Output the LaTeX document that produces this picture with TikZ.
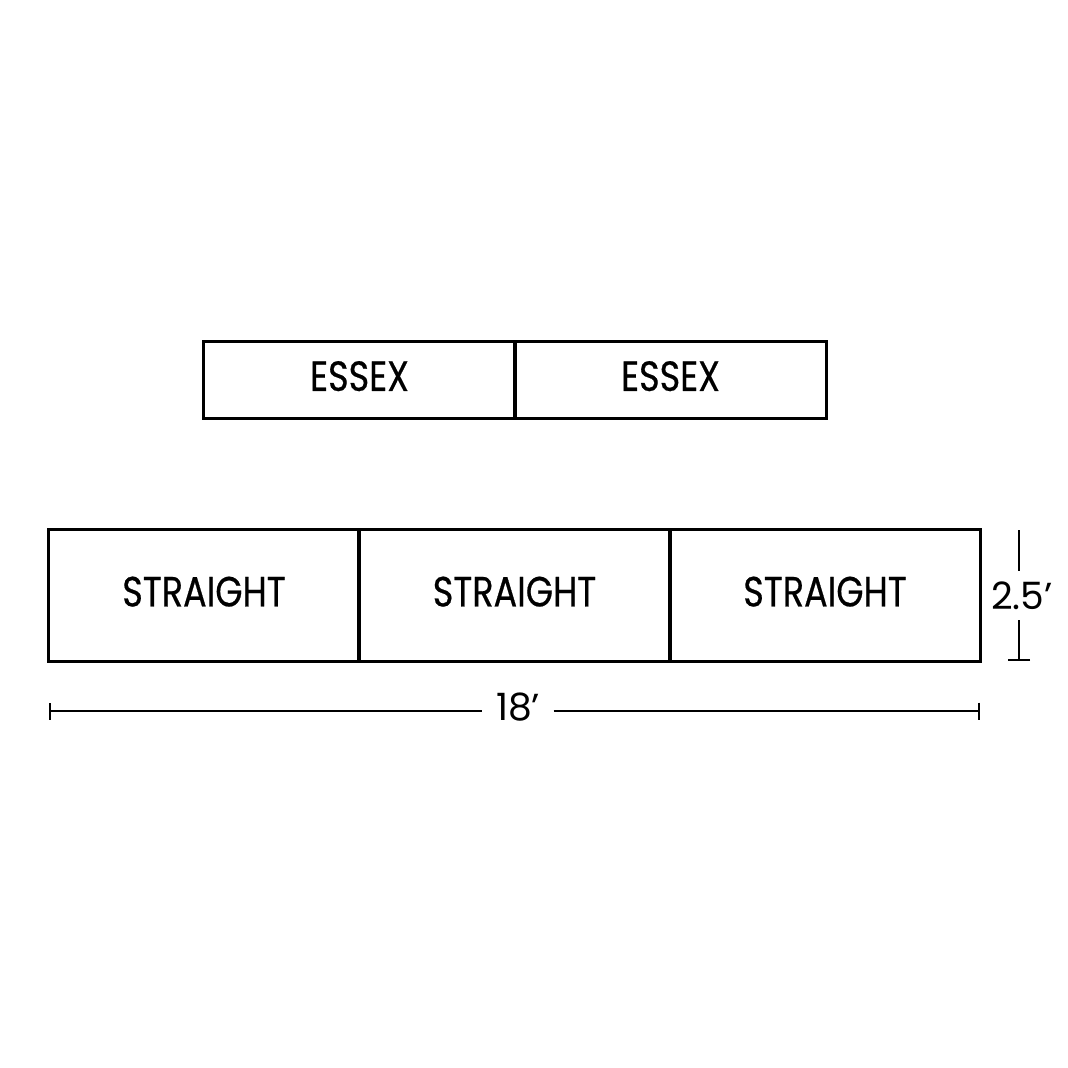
\documentclass[tikz,border=0pt]{standalone}
\usepackage{fontspec}
\setmainfont{Poppins}
\newfontfamily\labelfont{Poppins}[FakeStretch=0.83, FakeBold=0.5]
\usetikzlibrary{arrows.meta}

\tikzset{
    sectbox/.style={draw, line width=0.85pt, rectangle, inner sep=0pt,
        minimum width=3.11cm, text depth=0.08cm, font=\labelfont\fontsize{12}{14}\selectfont},
    dimline/.style={line width=0.5pt},
    dimtext/.style={font=\fontsize{10.7}{13}\selectfont, inner sep=0pt}
}

\begin{document}
\begin{tikzpicture}[x=0.01cm, y=-0.01cm]
        \useasboundingbox (0,0) rectangle (1068,1067);

        % essex row
        \node[sectbox, minimum height=0.76cm] (essexa) at (359.5,380) {ESSEX};
        \node[sectbox, minimum height=0.76cm] (essexb) at (670.5,380) {ESSEX};

        % straight row
        \node[sectbox, minimum height=1.31cm] (straighta) at (204,595.5) {STRAIGHT};
        \node[sectbox, minimum height=1.31cm] (straightb) at (514.5,595.5) {STRAIGHT};
        \node[sectbox, minimum height=1.31cm] (straightc) at (825,595.5) {STRAIGHT};

        % horizontal dimension
        \coordinate (hleft) at (49,711);
        \coordinate (hright) at (980,711);
        \node[dimtext, inner xsep=0.13cm] (dimh) at (518,707) {18'};
        \draw[dimline, {Bar[width=0.17cm]}-] (hleft) -- (dimh.west |- hleft);
        \draw[dimline, -{Bar[width=0.17cm]}] (dimh.east |- hright) -- (hright);

        % vertical dimension
        \coordinate (vtop) at (1019,530);
        \coordinate (vbot) at (1019,661);
        \node[dimtext, inner ysep=0.1cm] (dimv) at (1022,595.5) {2.5'};
        \draw[dimline] (vtop) -- (dimv.north -| vtop);
        \draw[dimline, -{Bar[width=0.22cm]}] (dimv.south -| vbot) -- (vbot);
\end{tikzpicture}
\end{document}
